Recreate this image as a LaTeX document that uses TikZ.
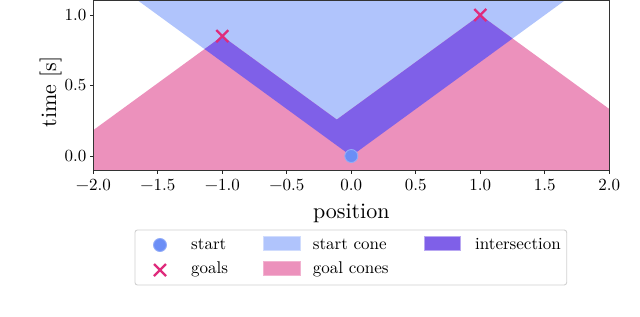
\documentclass[tikz,border=0pt]{standalone}
\usepackage{fontspec}
\setmainfont{lmroman10-regular}[Extension=.otf]
\definecolor{conecol}{HTML}{B0C4FC}
\definecolor{goalcol}{HTML}{EC91BC}
\definecolor{intercol}{HTML}{7F60E8}
\definecolor{startcol}{HTML}{6B8EF6}
\definecolor{startedge}{HTML}{93ADF8}
\definecolor{crosscol}{HTML}{DF2B7C}
\tikzset{
  ticklab/.style={inner sep=0pt, font=\fontsize{17}{20}\selectfont},
  axlab/.style={inner sep=0pt, font=\fontsize{22}{26}\selectfont},
  legtext/.style={inner sep=0pt, anchor=base west, font=\fontsize{17}{20}\selectfont},
  tickline/.style={line width=0.9pt, black!85},
  frame/.style={line width=1.1pt, black!80},
  startmark/.style={fill=startcol, draw=startedge, line width=0.9pt},
  crossline/.style={draw=crosscol, line width=2.3pt},
}
\begin{document}
\begin{tikzpicture}[x=1pt,y=-1pt]
\useasboundingbox (0,0) rectangle (640,316);
\fill[white] (0,0) rectangle (640,316);
% data scope
\begin{scope}[shift={(351.3pt,-156pt)}, x=129pt, y=141pt]
  \begin{scope}
    \clip (-2,-0.1) rectangle (2,1.1);
    % start cone
    \fill[conecol] (0,0) -- (-3,2) -- (3,2) -- cycle;
    % goal cones
    \fill[goalcol] (-2,-0.1) -- (-2,0.18333) -- (-1,0.85) -- (-0.1125,0.25833) -- (1,1) -- (2,0.33333) -- (2,-0.1) -- cycle;
    % intersection
    \begin{scope}
      \clip (0,0) -- (-3,2) -- (3,2) -- cycle;
      \fill[intercol] (-2,-0.1) -- (-2,0.18333) -- (-1,0.85) -- (-0.1125,0.25833) -- (1,1) -- (2,0.33333) -- (2,-0.1) -- cycle;
    \end{scope}
  \end{scope}
  % markers
  \fill[startmark] (0,0) circle[radius=6.5pt];
  \coordinate (g1) at (-1,0.85);
  \coordinate (g2) at (1,1);
  \draw[crossline] ([shift={(-6pt,-6pt)}]g1) -- ([shift={(6pt,6pt)}]g1);
  \draw[crossline] ([shift={(-6pt,6pt)}]g1) -- ([shift={(6pt,-6pt)}]g1);
  \draw[crossline] ([shift={(-6pt,-6pt)}]g2) -- ([shift={(6pt,6pt)}]g2);
  \draw[crossline] ([shift={(-6pt,6pt)}]g2) -- ([shift={(6pt,-6pt)}]g2);
  % frame
  \draw[frame] (-2,-0.1) rectangle (2,1.1);
  % x ticks
  \foreach \v/\l [count=\i] in {-2/−2.0,-1.5/−1.5,-1/−1.0,-0.5/−0.5,0/0.0,0.5/0.5,1/1.0,1.5/1.5,2/2.0}{
    \draw[tickline] (\v,-0.1) -- ++(0pt,-3.5pt);
    \node[ticklab, anchor=north] (xt\i) at (\v,-0.1631) {\l};
  }
  % y ticks
  \foreach \v/\l [count=\i] in {0/0.0,0.5/0.5,1/1.0}{
    \draw[tickline] (-2,\v) -- ++(-3.5pt,0pt);
    \node[ticklab, anchor=east] (yt\i) at (-2.0527,\v) {\l};
  }
  \node[axlab, anchor=base] (xlab) at (0,-0.4418) {position};
  \node[axlab, anchor=base, rotate=90] (ylab) at (-2.289,0.454) {time [s]};
\end{scope}
% legend
\draw[rounded corners=2.5pt, draw=black!18, line width=0.9pt, fill=white] (135,230) rectangle (566.7,285);
\fill[startmark] (160,245) circle[radius=6.5pt];
\coordinate (lg) at (160,270);
\draw[crossline] ([shift={(-6pt,-6pt)}]lg) -- ([shift={(6pt,6pt)}]lg);
\draw[crossline] ([shift={(-6pt,6pt)}]lg) -- ([shift={(6pt,-6pt)}]lg);
\node[legtext] (lstart) at (191,249.3) {start};
\node[legtext] (lgoals) at (191,273) {goals};
\fill[conecol, draw=conecol!60!white, line width=0.6pt] (263.3,236.7) rectangle (300,250);
\fill[goalcol, draw=goalcol!70!white, line width=0.6pt] (263.3,261.7) rectangle (300,275);
\fill[intercol, draw=intercol!55!white, line width=0.8pt] (424.3,236.7) rectangle (460,250);
\node[legtext] (lcone) at (312.7,249.3) {start cone};
\node[legtext] (lgcones) at (312.7,273) {goal cones};
\node[legtext] (linter) at (475,249.3) {intersection};
\end{tikzpicture}
\end{document}
